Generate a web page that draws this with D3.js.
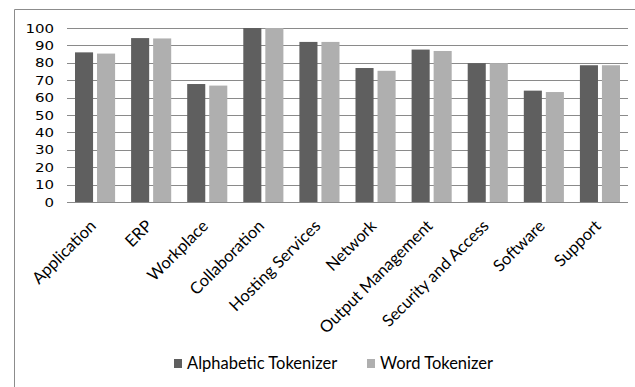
<!DOCTYPE html>
<html>
<head>
<meta charset="utf-8">
<script src="https://cdn.jsdelivr.net/npm/d3@7"></script>
<style>
  body { margin: 0; background: #fff; }
  svg { display: block; }
</style>
</head>
<body>
<svg id="chart" width="635" height="387"></svg>
<script>
// data
const categories = ["Application", "ERP", "Workplace", "Collaboration", "Hosting Services",
    "Network", "Output Management", "Security and Access", "Software", "Support"];
const alphabetic = [86, 94.2, 67.8, 100, 92, 77, 87.6, 79.8, 64, 78.6];
const word = [85.3, 94, 66.9, 100, 92, 75.4, 86.8, 79.8, 63.2, 78.6];
const seriesNames = ["Alphabetic Tokenizer", "Word Tokenizer"];
const yTicks = [0, 10, 20, 30, 40, 50, 60, 70, 80, 90, 100];

const colors = ["#5f5f5f", "#afafaf"];
const labelFont = "Lato, 'Open Sans', sans-serif";
const svg = d3.select("#chart");

// outer frame (cut off at right and bottom)
svg.append("path")
    .attr("d", "M14.5,400 V9.5 H640")
    .attr("fill", "none")
    .attr("stroke", "#8c8c8c")
    .attr("stroke-width", 1);

const plot = { left: 67, right: 628, top: 28, bottom: 202 };

const x = d3.scaleBand().domain(categories).range([plot.left, plot.right]);
const y = d3.scaleLinear().domain([0, 100]).range([plot.bottom, plot.top]);
const xs = d3.scaleBand().domain([0, 1]).range([8, x.bandwidth() - 8]).paddingInner(0.18);

// gridlines
svg.append("g")
    .selectAll("line")
    .data(yTicks)
    .enter()
    .append("line")
    .attr("x1", plot.left)
    .attr("x2", plot.right)
    .attr("y1", d => Math.round(y(d)) + 0.5)
    .attr("y2", d => Math.round(y(d)) + 0.5)
    .attr("stroke", "#8a8a8a")
    .attr("stroke-width", 1);

// y axis labels (the source text is a bit wide, so stretch it)
svg.append("g")
    .selectAll("text")
    .data(yTicks)
    .enter()
    .append("text")
    .attr("transform", d => "translate(54," + (y(d) + 4.5) + ") scale(1.2,1)")
    .attr("text-anchor", "end")
    .attr("font-family", "DejaVu Sans, Verdana, sans-serif")
    .attr("font-size", 12.5)
    .attr("fill", "#000")
    .text(d => d);

// bars
const series = [alphabetic, word];
series.forEach((vals, si) => {
    svg.append("g")
        .selectAll("rect")
        .data(vals)
        .enter()
        .append("rect")
        .attr("x", (d, i) => x(categories[i]) + xs(si))
        .attr("y", d => y(d))
        .attr("width", xs.bandwidth())
        .attr("height", d => y(0) - y(d))
        .attr("fill", colors[si]);
});

// category labels, rotated
svg.append("g")
    .selectAll("text")
    .data(categories)
    .enter()
    .append("text")
    .attr("transform", d => "translate(" + (x(d) + x.bandwidth() / 2 + 2) + "," + (plot.bottom + 25) + ") rotate(-45)")
    .attr("text-anchor", "end")
    .attr("font-family", labelFont)
    .attr("font-size", 16.5)
    .attr("fill", "#000")
    .text(d => d);

// legend
const legendItems = [
    { name: seriesNames[0], color: colors[0], x: 174 },
    { name: seriesNames[1], color: colors[1], x: 367 }
];
const legend = svg.append("g");
legendItems.forEach(item => {
    legend.append("rect")
        .attr("x", item.x)
        .attr("y", 359)
        .attr("width", 8)
        .attr("height", 9)
        .attr("fill", item.color);
    legend.append("text")
        .attr("x", item.x + 13)
        .attr("y", 369)
        .attr("font-family", labelFont)
        .attr("font-size", 16.5)
        .attr("fill", "#000")
        .text(item.name);
});
</script>
</body>
</html>
